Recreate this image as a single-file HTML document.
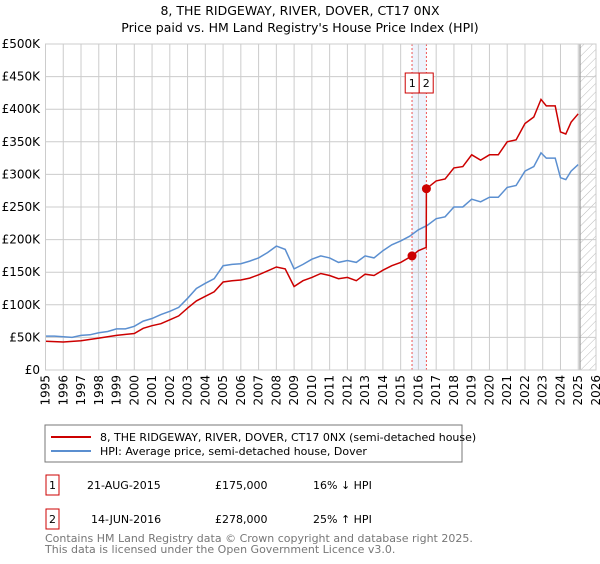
<!DOCTYPE html>
<html><head><meta charset="utf-8"><style>
body{margin:0;background:#fff;font-family:"DejaVu Sans","Liberation Sans",sans-serif;}
svg text{font-family:"DejaVu Sans","Liberation Sans",sans-serif;}
</style></head><body>
<svg id="c" width="600" height="560" xmlns="http://www.w3.org/2000/svg">
<defs><pattern id="hatch" width="6" height="6" patternUnits="userSpaceOnUse" patternTransform="rotate(45)"><line x1="0" y1="0" x2="0" y2="6" stroke="#bbb" stroke-width="1"/></pattern></defs>
<text x="300" y="15" text-anchor="middle" font-size="12.5">8, THE RIDGEWAY, RIVER, DOVER, CT17 0NX</text>
<text x="300" y="32" text-anchor="middle" font-size="12.5">Price paid vs. HM Land Registry's House Price Index (HPI)</text>
<g id="grid"></g><g id="marks"></g><g id="axes"></g>
<rect x="45" y="425" width="417" height="37" fill="#fff" stroke="#777"/>
<line x1="51" y1="437" x2="91" y2="437" stroke="#cc0000" stroke-width="2"/>
<text x="100" y="441" font-size="11">8, THE RIDGEWAY, RIVER, DOVER, CT17 0NX (semi-detached house)</text>
<line x1="51" y1="451" x2="91" y2="451" stroke="#5b8fd0" stroke-width="2"/>
<text x="100" y="455" font-size="11">HPI: Average price, semi-detached house, Dover</text>
<g>
<rect x="46" y="475" width="13" height="20" fill="#fff" stroke="#cc0000"/><text x="52.5" y="489" text-anchor="middle" font-size="11">1</text>
<text x="87" y="489" font-size="11">21-AUG-2015</text><text x="215" y="489" font-size="11">£175,000</text><text x="313" y="489" font-size="11">16% ↓ HPI</text></g>
<g>
<rect x="46" y="509" width="13" height="20" fill="#fff" stroke="#cc0000"/><text x="52.5" y="523" text-anchor="middle" font-size="11">2</text>
<text x="91" y="523" font-size="11">14-JUN-2016</text><text x="215" y="523" font-size="11">£278,000</text><text x="313" y="523" font-size="11">25% ↑ HPI</text></g>
<text x="45" y="542" font-size="11" fill="#777">Contains HM Land Registry data © Crown copyright and database right 2025.</text>
<text x="45" y="553" font-size="11" fill="#777">This data is licensed under the Open Government Licence v3.0.</text>
</svg>
<script>
const hpiYears=[1995,1995.5,1996,1996.5,1997,1997.5,1998,1998.5,1999,1999.5,2000,2000.5,2001,2001.5,2002,2002.5,2003,2003.5,2004,2004.5,2005,2005.5,2006,2006.5,2007,2007.5,2008,2008.5,2009,2009.5,2010,2010.5,2011,2011.5,2012,2012.5,2013,2013.5,2014,2014.5,2015,2015.5,2016,2016.5,2017,2017.5,2018,2018.5,2019,2019.5,2020,2020.5,2021,2021.5,2022,2022.5,2022.9,2023.2,2023.7,2024,2024.3,2024.6,2025];
const hpiValues=[52,52,51,50,53,54,57,59,63,63,67,75,79,85,90,96,110,125,133,140,160,162,163,167,172,180,190,185,155,162,170,175,172,165,168,165,175,172,183,192,198,205,215,222,232,235,250,250,262,258,265,265,280,283,305,312,333,325,325,295,292,305,315];
const propYears=[1995,1996,1997,1998,1999,2000,2000.5,2001,2001.5,2002,2002.5,2003,2003.5,2004,2004.5,2005,2005.5,2006,2006.5,2007,2007.5,2008,2008.5,2009,2009.5,2010,2010.5,2011,2011.5,2012,2012.5,2013,2013.5,2014,2014.5,2015,2015.64,2016,2016.44,2016.45,2017,2017.5,2018,2018.5,2019,2019.5,2020,2020.5,2021,2021.5,2022,2022.5,2022.9,2023.2,2023.7,2024,2024.3,2024.6,2025];
const propValues=[44,43,45,49,53,56,64,68,71,77,83,95,106,113,120,135,137,138,141,146,152,158,155,128,137,142,148,145,140,142,137,147,145,153,160,165,175,183,188,278,290,293,310,312,330,322,330,330,350,353,378,388,415,405,405,365,362,380,393];
const saleYears=[2015.64,2016.45];
const saleValues=[175,278];
const yTicks=[0,50,100,150,200,250,300,350,400,450,500];
const xTicks=[];for(let y=1995;y<=2026;y++)xTicks.push(y);
const X=t=>45.5+(t-1995)*(550.5/31), Y=v=>370-v*326/500;
const NS="http://www.w3.org/2000/svg";
function mk(tag,attrs,parent){const e=document.createElementNS(NS,tag);for(const k in attrs)e.setAttribute(k,attrs[k]);parent.appendChild(e);return e;}
const grid=document.getElementById('grid'),marks=document.getElementById('marks'),axes=document.getElementById('axes');
let sh=mk('rect',{x:X(saleYears[0]),y:Y(500),width:X(saleYears[1])-X(saleYears[0]),height:Y(0)-Y(500),fill:'#eef3fc'},grid);


let ht=mk('rect',{x:X(2025.1),y:Y(500),width:X(2026)-X(2025.1),height:Y(0)-Y(500),fill:'url(#hatch)'},grid);


yTicks.forEach(v=>{
 let l=mk('line',{x1:X(1995),x2:X(2026),y1:Y(v),y2:Y(v),stroke:'#ccc'},grid);
 
 
 let t=mk('text',{x:40,y:Y(v)+4,'text-anchor':'end','font-size':'12'},axes);
 t.textContent=v===0?'£0':'£'+v+'K';
 
 
});
xTicks.forEach(y=>{
 let l=mk('line',{x1:X(y),x2:X(y),y1:Y(500),y2:Y(0),stroke:'#ccc'},grid);
 
 
 let t=mk('text',{x:0,y:0,'text-anchor':'end','font-size':'12',transform:`translate(${X(y)+4},${Y(0)+5}) rotate(-90)`},axes);
 t.textContent=y;
 
 
});
let fl=mk('line',{x1:X(2025.1),x2:X(2025.1),y1:Y(500),y2:Y(0),stroke:'#999','stroke-width':1.2},grid);


let fr=mk('rect',{x:X(1995),y:Y(500),width:X(2026)-X(1995),height:Y(0)-Y(500),fill:'none',stroke:'#ccc'},axes);


saleYears.forEach((s,i)=>{
 let l=mk('line',{x1:X(s),x2:X(s),y1:Y(500),y2:Y(0),stroke:'#ee5555','stroke-dasharray':'2,2','stroke-width':1},marks);
 
 
});
function path(xs,vs,col,name){
 let d=xs.map((t,i)=>(i?'L':'M')+X(t).toFixed(1)+','+Y(vs[i]).toFixed(1)).join('');
 let p=mk('path',{d:d,fill:'none',stroke:col,'stroke-width':1.5},marks);
 
 
}
path(hpiYears,hpiValues,'#5b8fd0','hpi-line');
path(propYears,propValues,'#cc0000','property-price-line');
const mid=(X(saleYears[0])+X(saleYears[1]))/2;
saleYears.forEach((s,i)=>{
 let c=mk('circle',{cx:X(s),cy:Y(saleValues[i]),r:4.5,fill:'#cc0000'},marks);
 
 
 let bx=i===0?mid-14:mid;
 let g=mk('g',{},marks);
 
 
 mk('rect',{x:bx,y:73,width:14,height:20,fill:'#fff',stroke:'#cc0000'},g);
 let t=mk('text',{x:bx+7,y:87,'text-anchor':'middle','font-size':'11'},g);
 t.textContent=String(i+1);
});
</script>
</body></html>
